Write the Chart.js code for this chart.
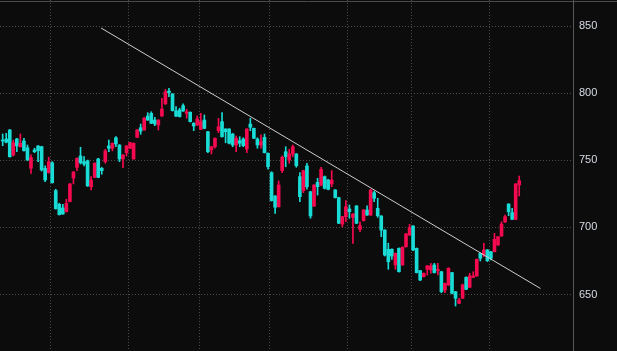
<!DOCTYPE html>
<html>
<head>
<meta charset="utf-8">
<script src="https://cdn.jsdelivr.net/npm/chart.js@4"></script>
<style>
  html, body { margin: 0; padding: 0; background: #0c0c0c; }
  #wrap { width: 617px; height: 351px; position: relative; }
</style>
</head>
<body>
<div id="wrap"><canvas id="candles"></canvas></div>
<script>
// daily OHLC (oldest first)
const opens = [765.1,765.9,772.6,754.0,765.9,760.1,764.4,759.4,744.1,757.7,760.7,760.2,744.0,740.8,748.2,727.4,717.2,714.5,711.7,719.2,
  736.8,744.8,753.2,749.0,749.7,730.3,737.3,751.0,744.0,749.0,760.7,759.0,766.8,761.4,751.0,755.7,759.0,751.0,767.1,774.3,
  772.6,783.0,785.0,780.0,776.3,783.0,792.0,801.6,799.4,786.8,787.5,790.7,785.0,785.8,777.6,776.3,773.1,780.0,771.3,757.7,
  760.1,772.1,778.8,773.3,773.3,769.6,761.4,764.6,765.9,758.4,777.0,773.8,765.9,761.4,767.1,755.2,740.8,723.4,715.4,742.3,
  756.4,750.2,754.7,754.7,737.8,727.4,745.8,726.6,715.9,733.6,731.6,737.8,735.3,732.4,727.9,722.2,702.5,708.0,713.7,707.5,
  716.0,698.6,705.0,713.0,709.2,725.9,714.2,708.5,698.0,683.7,683.7,672.0,684.4,672.0,685.6,694.3,701.0,684.4,667.8,663.3,
  668.8,668.3,672.0,667.8,667.0,653.3,657.1,666.3,652.1,643.4,647.2,662.8,655.4,662.8,663.8,680.7,679.4,683.2,681.9,681.9,
  686.9,693.6,704.2,717.4,711.0,706.0,731.6];
const highs = [769.6,770.1,773.0,765.1,766.3,769.6,766.4,761.4,754.0,759.0,761.0,760.5,745.8,752.3,749.0,728.4,718.0,717.2,721.0,732.7,
  741.6,751.8,759.7,752.7,750.2,737.8,748.2,751.5,744.8,758.2,765.1,763.0,767.6,761.7,754.3,761.0,763.4,763.0,773.0,777.0,
  782.0,785.5,786.2,782.0,780.3,796.2,802.9,803.7,799.7,790.0,788.8,792.0,788.0,786.1,778.0,783.0,785.0,783.8,771.6,760.4,
  766.7,781.3,785.5,773.6,773.6,770.0,768.1,767.6,766.8,773.6,781.3,774.1,766.8,768.9,769.6,755.5,741.5,723.7,734.6,753.2,
  760.1,758.2,761.4,755.0,740.8,742.6,747.8,727.0,731.9,736.6,744.8,738.3,735.8,742.3,728.2,722.5,708.3,719.9,716.7,710.3,
  716.3,704.2,713.3,716.0,728.2,727.1,721.7,708.8,698.3,688.2,684.0,681.0,684.7,685.6,695.6,702.3,701.3,684.7,668.1,666.1,
  671.6,673.2,673.2,673.2,667.3,658.6,669.9,666.6,652.4,647.2,657.8,663.1,665.8,667.0,676.5,681.0,688.2,683.5,682.2,695.6,
  693.4,704.2,709.2,717.7,714.2,732.7,738.3];
const lows = [760.9,763.0,752.3,753.2,756.4,759.8,756.8,749.8,740.3,755.7,749.0,742.0,734.1,740.4,733.0,713.6,709.2,709.7,711.4,719.0,
  732.4,742.3,747.2,745.8,730.6,727.9,737.0,737.0,739.6,747.8,756.4,757.0,760.1,749.0,744.5,753.2,758.7,750.7,766.8,769.4,
  772.3,779.7,777.3,775.8,772.6,782.7,791.7,797.4,786.7,782.5,782.2,786.4,781.3,778.5,772.1,776.0,772.8,773.5,755.7,754.7,
  759.0,770.6,767.3,763.1,762.3,760.1,756.4,760.1,760.1,755.7,772.1,766.1,759.0,759.0,755.4,743.3,719.6,710.5,715.1,740.8,
  745.2,747.8,752.7,744.8,719.2,725.9,728.4,706.8,715.6,724.1,730.9,728.6,728.0,730.3,721.9,702.8,700.5,704.3,706.8,688.1,
  702.8,696.8,704.7,708.9,708.9,719.2,707.5,693.1,678.7,668.8,676.2,668.8,666.7,671.7,685.3,694.0,682.6,666.0,660.3,663.0,
  664.5,665.8,666.0,664.5,651.3,651.3,656.8,650.5,641.4,643.1,646.9,653.6,655.1,662.5,663.5,675.0,678.2,674.5,675.7,681.6,
  686.6,693.3,703.5,708.7,705.7,705.7,723.4];
const closes = [764.4,763.4,752.7,763.1,760.7,762.7,757.2,750.2,752.0,756.4,757.2,742.8,735.3,749.0,733.3,713.9,709.5,710.0,718.0,732.4,
  741.3,751.5,748.2,747.2,730.9,735.3,747.8,737.3,742.3,757.0,759.0,762.7,762.2,751.0,754.0,760.7,763.1,762.7,772.6,771.8,
  781.3,780.0,777.6,777.0,780.0,788.2,801.1,800.4,787.0,783.0,782.5,786.7,786.2,778.8,775.6,780.8,778.8,773.8,756.4,760.1,
  766.4,775.0,767.6,771.3,762.7,761.4,766.4,762.7,760.9,773.3,774.6,766.4,761.4,763.9,755.7,745.2,719.9,715.0,731.6,752.2,
  752.7,754.7,760.1,746.0,722.9,742.3,730.3,708.5,731.6,730.3,743.3,729.1,728.4,735.3,722.2,703.1,708.0,715.4,711.7,710.0,
  703.1,701.3,713.0,709.2,727.9,721.7,708.7,698.0,679.4,674.4,678.7,680.7,667.0,685.2,695.1,699.8,683.2,666.3,660.8,665.8,
  671.3,671.3,666.3,668.8,652.1,658.3,669.6,650.9,647.2,645.9,657.1,653.9,663.8,663.8,676.2,677.0,683.2,675.2,677.0,691.2,
  693.1,702.5,708.0,711.7,706.0,732.4,734.8];

// first trading day of each month (candle index)
const monthStarts = [14, 36, 56, 76, 98, 116, 138];
const priceTicks = [650, 700, 750, 800, 850];

// hand drawn trend line (index, price)
const trendX = [27.8, 152.0];
const trendY = [848.6, 654.5];

const UP = "#f5094f";
const DOWN = "#19dcd6";
const GRID = "#4c4c4c";

const days = opens.map((_, i) => i);
const colors = days.map(i => (closes[i] >= opens[i] ? UP : DOWN));

// background + thin top rule
const frame = {
  id: "frame",
  beforeDraw(chart) {
    const { ctx, width, height } = chart;
    ctx.save();
    ctx.fillStyle = "#0c0c0c";
    ctx.fillRect(0, 0, width, height);
    ctx.strokeStyle = "#4a4a4a";
    ctx.lineWidth = 1;
    ctx.beginPath();
    ctx.moveTo(0, 1.5);
    ctx.lineTo(width, 1.5);
    ctx.stroke();
    ctx.restore();
  },
};

new Chart(document.getElementById("candles"), {
  type: "bar",
  data: {
    datasets: [
      {
        label: "wick",
        data: days.map(i => ({ x: i, y: [lows[i], highs[i]] })),
        backgroundColor: colors,
        barThickness: 1,
        grouped: false,
        borderSkipped: false,
        order: 2,
      },
      {
        label: "body",
        data: days.map(i => ({
          x: i,
          y: [Math.min(opens[i], closes[i]), Math.max(opens[i], closes[i])],
        })),
        backgroundColor: colors,
        barThickness: 3,
        grouped: false,
        borderSkipped: false,
        order: 1,
      },
      {
        type: "line",
        label: "trend",
        data: trendX.map((x, i) => ({ x: x, y: trendY[i] })),
        borderColor: "#cdcdcd",
        borderWidth: 1,
        pointRadius: 0,
        order: 0,
      },
    ],
  },
  options: {
    responsive: true,
    maintainAspectRatio: false,
    animation: false,
    layout: { padding: 0 },
    plugins: {
      legend: { display: false },
      tooltip: { enabled: false },
    },
    scales: {
      x: {
        type: "linear",
        min: -0.76,
        max: 161.2,
        offset: false,
        afterBuildTicks: scale => {
          scale.ticks = monthStarts.map(m => ({ value: m - 0.5 }));
        },
        afterFit: scale => {
          scale.height = 0;
          scale.paddingLeft = 0;
          scale.paddingRight = 0;
        },
        ticks: { display: false },
        grid: { color: GRID, drawTicks: false, offset: false },
        border: { display: false, dash: [1, 2] },
      },
      y: {
        position: "right",
        min: 607.9,
        max: 869.45,
        afterBuildTicks: scale => {
          scale.ticks = priceTicks.map(v => ({ value: v }));
        },
        afterFit: scale => {
          scale.width = 44;
          // labels sit well inside the plot, so no edge padding is needed
          scale.paddingTop = 0;
          scale.paddingBottom = 0;
        },
        ticks: {
          color: "#d6dce4",
          padding: 6,
          font: { family: "'Liberation Sans', Arial, sans-serif", size: 11 },
        },
        grid: { color: GRID, drawTicks: false },
        border: { display: true, color: "#575757", dash: [1, 2] },
      },
    },
  },
  plugins: [frame],
});
</script>
</body>
</html>
